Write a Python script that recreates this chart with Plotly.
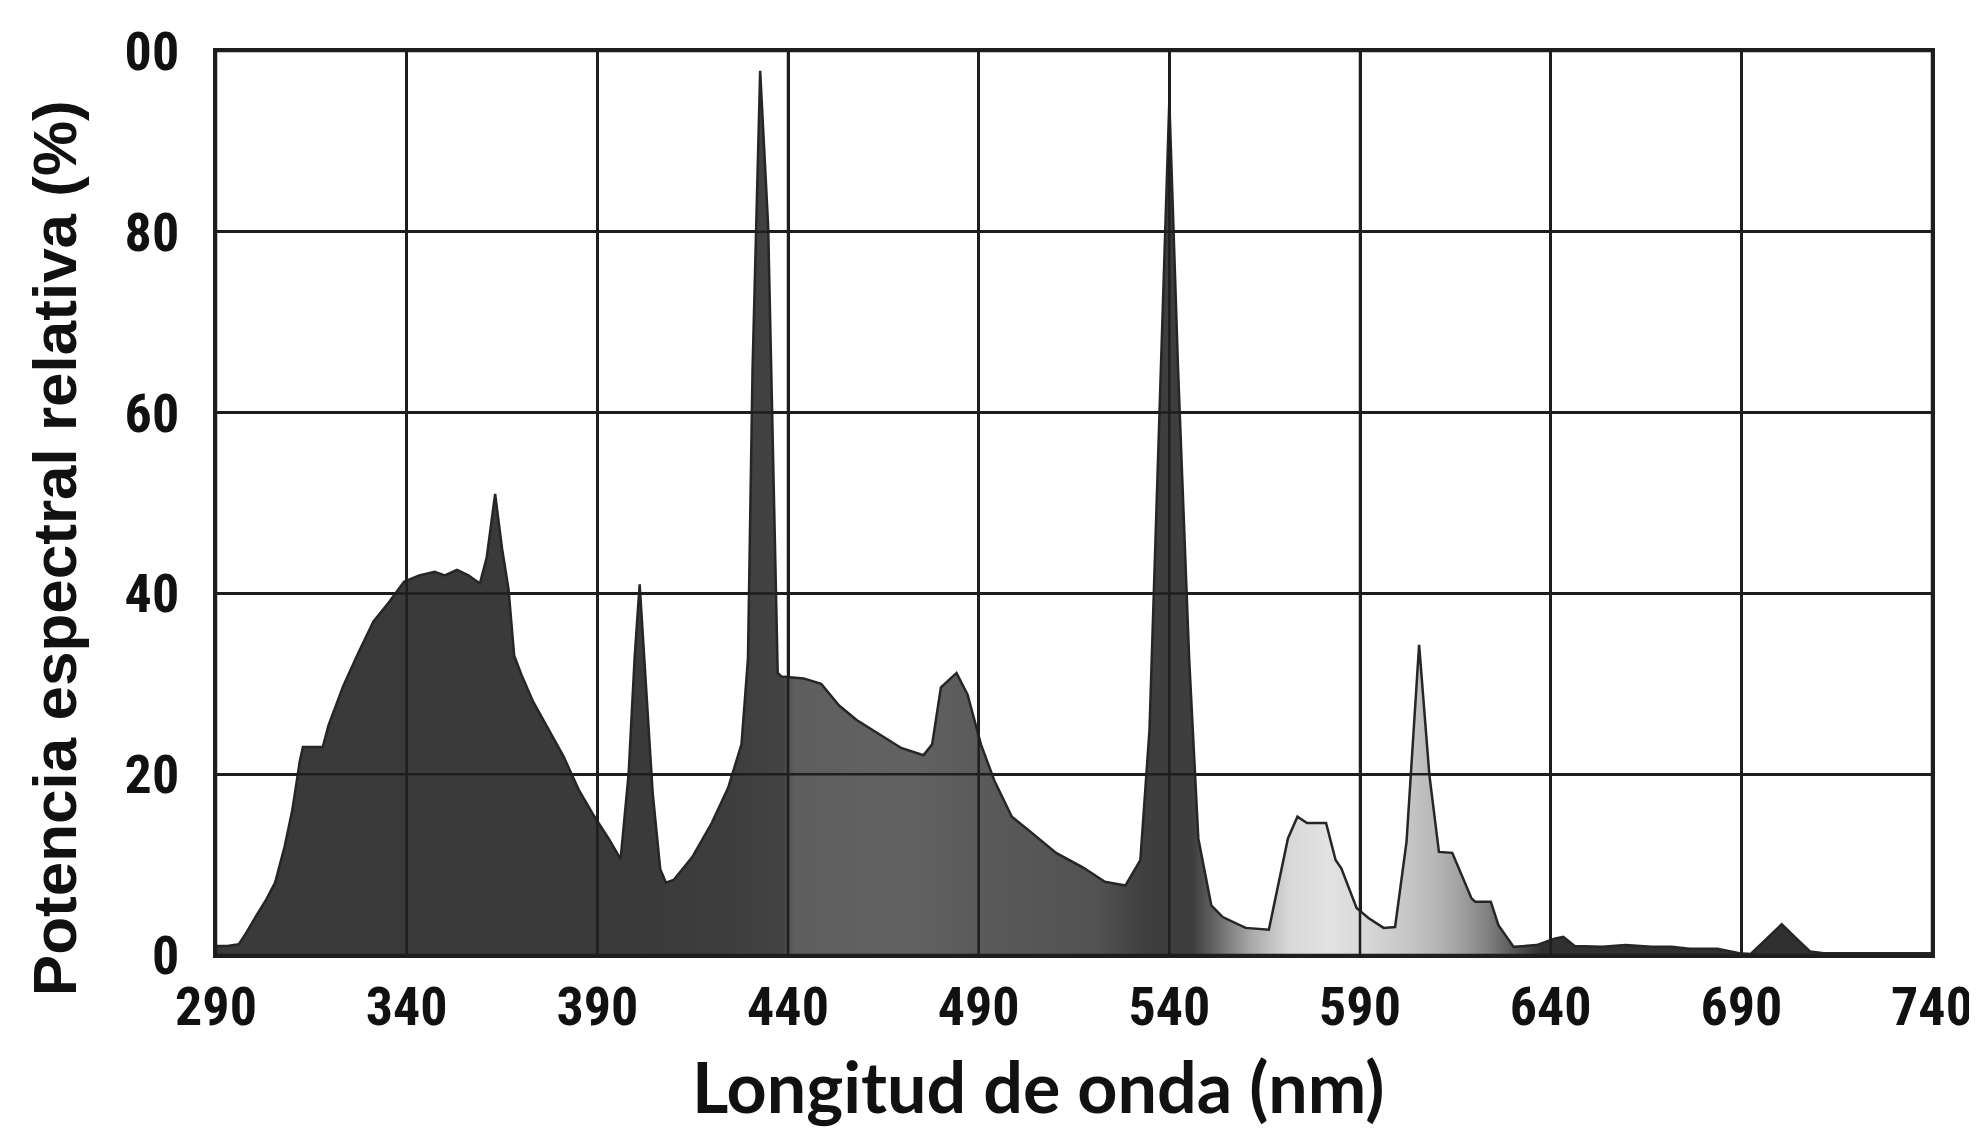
import plotly.graph_objects as go

# ---- data ----
wavelength_nm = [
    290, 293, 296, 298, 300.5, 303, 305.5, 308, 310, 312, 312.8, 318, 319.5, 323.4, 327.4,
    331.3, 335.3, 339.3, 343.3, 347.3, 350, 353.2, 356.2, 359.2, 361, 363.2, 365, 366.7,
    368.2, 370.2, 373.2, 377.2, 381.1, 385.1, 389.1, 393.1, 396.1, 398.2, 399.8, 401.1,
    402.5, 404.5, 406.5, 408, 410, 415, 420, 424.3, 427.8, 429.5, 430.7, 432.7, 434.8,
    436.5, 437.3, 438.3, 444.1, 448.7, 453.4, 458, 463.8, 469.7, 475.5, 477.8, 480.1,
    484.2, 487.1, 490.6, 494.1, 498.7, 503.4, 510.3, 517.3, 523.1, 528.5, 532.4, 534.8,
    537.1, 540, 542.3, 545.2, 547.6, 551, 554, 560, 566.1, 569.1, 571.1, 573.6, 576.1,
    581.1, 583.6, 585.1, 589.1, 592.2, 596.2, 599.2, 602.2, 605.5, 608.2, 610.7, 614.2,
    619.2, 620.2, 624.3, 626.3, 630.3, 636.3, 641, 643.3, 646.3, 653.6, 659.6, 666.4,
    671.7, 676.4, 683.7, 689.5, 692.4, 696, 700.6, 704, 708, 711.6, 740,
]
relative_power = [
    1.0, 1.0, 1.2, 2.5, 4.3, 6.0, 8.0, 12.0, 16.0, 21.5, 23.0, 23.0, 25.4, 29.8, 33.5,
    36.9, 39.0, 41.3, 42.0, 42.4, 42.0, 42.6, 42.0, 41.1, 44.0, 51.0, 45.0, 40.5,
    33.1, 30.9, 28.0, 25.0, 22.0, 18.3, 15.4, 12.8, 10.6, 20.0, 33.0, 41.0,
    32.0, 18.0, 9.5, 8.0, 8.3, 10.9, 14.6, 18.5, 23.3, 32.8, 64.7, 97.8, 80.6,
    48.8, 31.2, 30.8, 30.6, 30.0, 27.6, 26.0, 24.5, 22.9, 22.1, 23.3, 29.6,
    31.2, 28.8, 23.3, 19.3, 15.3, 13.7, 11.3, 9.7, 8.1, 7.7, 10.5, 24.9,
    56.7, 94.5, 64.7, 32.8, 12.9, 5.5, 4.2, 3.0, 2.8, 8.9, 12.9, 15.3, 14.6,
    14.6, 10.5, 9.6, 5.2, 4.1, 3.0, 3.1, 12.5, 34.3, 19.9, 11.4, 11.3,
    6.3, 5.9, 5.9, 3.3, 0.9, 1.1, 1.8, 2.0, 1.0, 0.9, 1.1, 0.9,
    0.9, 0.7, 0.7, 0.2, 0.1, 1.5, 3.4, 2.0, 0.4, 0.2, 0.2,
]

x_ticks = [290, 340, 390, 440, 490, 540, 590, 640, 690, 740]
x_tick_labels = ["290", "340", "390", "440", "490", "540", "590", "640", "690", "740"]
y_ticks = [0, 20, 40, 60, 80, 100]
y_tick_labels = ["0", "20", "40", "60", "80", "00"]

# grey shading of the filled spectrum along the wavelength axis
shade_nm = [290, 400, 425, 438, 441, 470, 490, 520, 533, 545, 552, 560, 570, 580, 590,
            600, 608, 615, 622, 630, 636, 740]
shade_color = ["#3a3a3a", "#3a3a3a", "#3e3e3e", "#434343", "#5e5e5e", "#626262", "#5a5a5a",
               "#525252", "#3e3e3e", "#3e3e3e", "#6e6e6e", "#a8a8a8", "#d8d8d8", "#e2e2e2",
               "#d8d8d8", "#c8c8c8", "#b8b8b8", "#a0a0a0", "#808080", "#505050", "#303030",
               "#303030"]

x_min, x_max = 290, 740
colorscale = [[(w - x_min) / (x_max - x_min), c] for w, c in zip(shade_nm, shade_color)]

fig = go.Figure()
fig.add_trace(go.Scatter(
    x=wavelength_nm, y=relative_power, mode="lines",
    line=dict(color="#262626", width=2.5),
    fill="tozeroy",
    fillgradient=dict(type="horizontal", colorscale=colorscale, start=x_min, stop=x_max),
    hoverinfo="x+y", showlegend=False,
))

grid_col = "#1e1e1e"
# grid lines drawn above the filled area, as in the reference
shapes = []
for xv in x_ticks:
    shapes.append(dict(type="line", xref="x", yref="y", x0=xv, x1=xv, y0=0, y1=100,
                       line=dict(color=grid_col, width=2.5), layer="above"))
for yv in y_ticks:
    shapes.append(dict(type="line", xref="x", yref="y", x0=x_min, x1=x_max, y0=yv, y1=yv,
                       line=dict(color=grid_col, width=2.5), layer="above"))

tick_font = dict(family="Liberation Sans Narrow, Roboto Condensed, DejaVu Sans Condensed, Liberation Sans, sans-serif",
                 size=54, color="#111111", weight="bold")

L, R, T, B = 208, 1932, 42, 947

fig.update_layout(
    width=1977, height=1131,
    margin=dict(l=L, r=1977 - R, t=T, b=1131 - B),
    paper_bgcolor="white", plot_bgcolor="white",
    shapes=shapes,
    xaxis=dict(range=[x_min, x_max], tickmode="array", tickvals=x_ticks, ticktext=x_tick_labels,
               showgrid=True, gridcolor=grid_col, gridwidth=2.5, zeroline=False,
               showline=True, linecolor=grid_col, linewidth=3, mirror=True,
               ticks="", tickfont=tick_font, ticklabelstandoff=2,
               ticklabeloverflow="allow"),
    yaxis=dict(range=[0, 100], tickmode="array", tickvals=y_ticks, ticktext=y_tick_labels,
               showgrid=True, gridcolor=grid_col, gridwidth=2.5, zeroline=False,
               showline=True, linecolor=grid_col, linewidth=3, mirror=True,
               ticks="", tickfont=tick_font, ticklabelstandoff=23),
    annotations=[
        dict(text="Longitud de onda (nm)", xref="paper", yref="paper",
             x=(1034 - L) / (R - L), y=-(1078 - B) / (B - T),
             xanchor="center", yanchor="middle", showarrow=False,
             font=dict(family="Lato, Open Sans, sans-serif", size=70, color="#111111",
                       weight="bold")),
        dict(text="Potencia espectral relativa (%)", xref="paper", yref="paper",
             x=-(L - 46) / (R - L), y=(B - 540) / (B - T),
             xanchor="center", yanchor="middle", showarrow=False, textangle=-90,
             font=dict(family="Liberation Sans, Arial, sans-serif", size=62, color="#111111",
                       weight="bold")),
    ],
)

fig.write_html("out.html")
